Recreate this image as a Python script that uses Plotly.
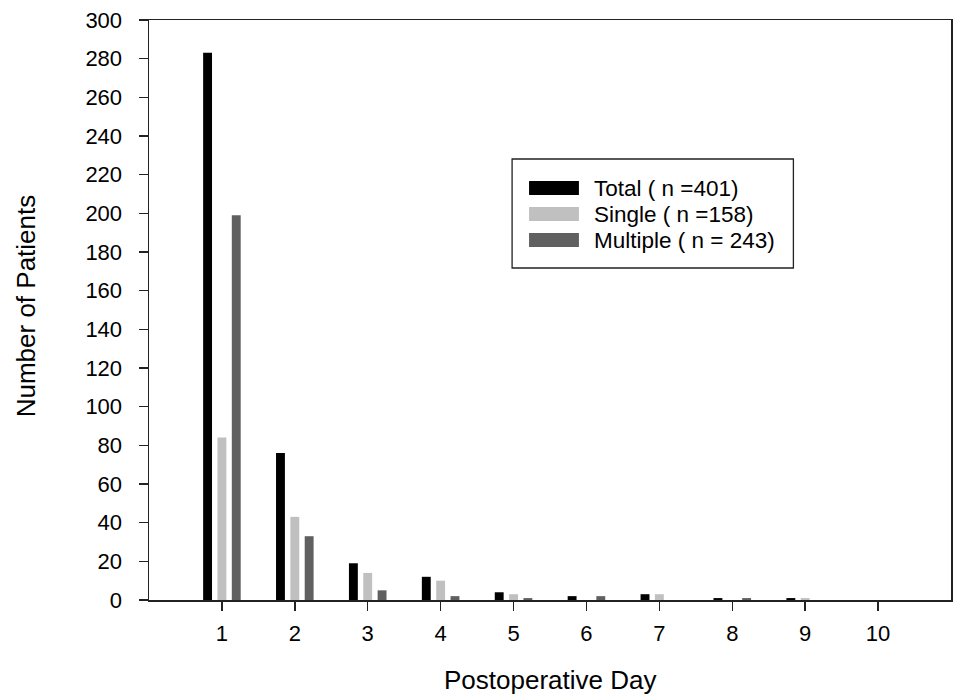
import plotly.graph_objects as go

days = [1, 2, 3, 4, 5, 6, 7, 8, 9, 10]
total = [283, 76, 19, 12, 4, 2, 3, 1, 1, 0]
single = [84, 43, 14, 10, 3, 0, 3, 0, 1, 0]
multiple = [199, 33, 5, 2, 1, 2, 0, 1, 0, 0]
series_names = ["Total ( n =401)", "Single ( n =158)", "Multiple ( n = 243)"]
series_colors = ["#000000", "#c0c0c0", "#606060"]
y_ticks = list(range(0, 301, 20))

FONT = "Liberation Sans, Arial, sans-serif"

fig = go.Figure()
for name, vals, col in zip(series_names, [total, single, multiple], series_colors):
    fig.add_trace(go.Bar(x=days, y=vals, name=name, marker=dict(color=col, line=dict(width=0)),
                         showlegend=False))

# plot area in pixels: left 149, right 953, top 20, bottom 600
W, H = 956, 700
L, R, T, B = 149, 953, 20, 600
pw, ph = R - L, B - T

def px(x):
    return (x - L) / pw

def py(y):
    return (B - y) / ph

shapes = []
annotations = []
# legend box
shapes.append(dict(type="rect", xref="paper", yref="paper", x0=px(513), x1=px(795), y0=py(268), y1=py(159),
                   line=dict(color="#222222", width=1.3), fillcolor="rgba(0,0,0,0)"))
row_centers = [188, 214, 240]
for name, col, yc in zip(series_names, series_colors, row_centers):
    shapes.append(dict(type="rect", xref="paper", yref="paper", x0=px(530), x1=px(580),
                       y0=py(yc + 7), y1=py(yc - 7), line=dict(width=0), fillcolor=col))
    annotations.append(dict(xref="paper", yref="paper", x=px(593), y=py(yc), text=name, showarrow=False,
                            xanchor="left", yanchor="middle", font=dict(family=FONT, size=22.5, color="#000")))

# axis titles
annotations.append(dict(xref="paper", yref="paper", x=px(551), y=py(680), text="Postoperative Day",
                        showarrow=False, xanchor="center", yanchor="middle",
                        font=dict(family=FONT, size=26, color="#000")))
annotations.append(dict(xref="paper", yref="paper", x=px(26), y=py(306), text="Number of Patients",
                        showarrow=False, xanchor="center", yanchor="middle", textangle=-90,
                        font=dict(family=FONT, size=26, color="#000")))

fig.update_layout(
    width=W, height=H,
    margin=dict(l=L, r=W - R, t=T, b=H - B),
    paper_bgcolor="white", plot_bgcolor="white",
    barmode="group", bargap=0.41, bargroupgap=0.38,
    font=dict(family=FONT, size=22, color="#000"),
    shapes=shapes, annotations=annotations,
    hovermode=False,
    xaxis=dict(range=[0, 11], tickvals=days, ticks="outside", ticklen=9, tickwidth=1.5, tickcolor="#222",
               showline=True, linecolor="#222", linewidth=1.5, mirror=True, showgrid=False, zeroline=False,
               tickfont=dict(family=FONT, size=22, color="#000"), ticklabelstandoff=4),
    yaxis=dict(range=[0, 300], tickvals=y_ticks, ticks="outside", ticklen=9, tickwidth=1.5, tickcolor="#222",
               showline=True, linecolor="#222", linewidth=1.5, mirror=True, showgrid=False, zeroline=False,
               tickfont=dict(family=FONT, size=22, color="#000"), ticklabelstandoff=12),
)

fig.write_html("out.html", config={"displayModeBar": False, "staticPlot": True},
               post_script="document.body.style.margin='0';document.body.style.overflow='hidden';")
